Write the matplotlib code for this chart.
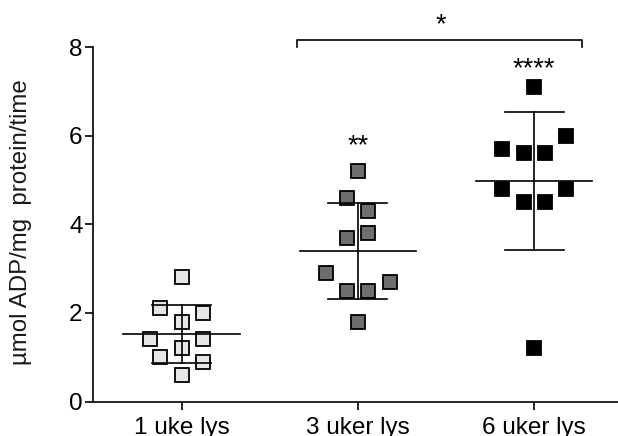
import numpy as np
import matplotlib
matplotlib.use('Agg')
import matplotlib.pyplot as plt

plt.rcParams['font.family'] = ['Liberation Sans', 'DejaVu Sans']

groups = ['1 uke lys', '3 uker lys', '6 uker lys']
uke1 = [2.8, 2.1, 2.0, 1.8, 1.4, 1.4, 1.2, 1.0, 0.9, 0.6]
uker3 = [5.2, 4.6, 4.3, 3.8, 3.7, 2.9, 2.7, 2.5, 2.5, 1.8]
uker6 = [7.1, 6.0, 5.7, 5.6, 5.6, 4.8, 4.8, 4.5, 4.5, 1.2]
stars = ['', '**', '****']

# horizontal spread of the squares so overlapping values sit side by side
spread1 = [0, -0.12, 0.12, 0, -0.18, 0.12, 0, -0.12, 0.12, 0]
spread3 = [0, -0.06, 0.06, 0.06, -0.06, -0.18, 0.18, -0.06, 0.06, 0]
spread6 = [0, 0.18, -0.18, -0.06, 0.06, -0.18, 0.18, -0.06, 0.06, 0]
star_y = [0, 5.6, 7.34]

faces = ['#e6e6e6', '#6e6e6e', '#000000']

fig = plt.figure(figsize=(6.18, 4.36), dpi=100)
ax = fig.add_axes([93 / 618, 34.5 / 436, 525 / 618, 354.5 / 436])

for i, (vals, spread) in enumerate(zip([uke1, uker3, uker6], [spread1, spread3, spread6])):
    vals = np.array(vals)
    mean = vals.mean()
    sd = vals.std(ddof=1)
    ax.plot(i + np.array(spread), vals, 's', ms=10.5, mfc=faces[i], mec='black',
            mew=1.3, zorder=3, clip_on=False)
    # mean line and SD whiskers
    ax.plot([i - 0.33, i + 0.33], [mean, mean], color='black', lw=1.2, zorder=4)
    ax.plot([i, i], [mean - sd, mean + sd], color='black', lw=1.2, zorder=4)
    for y in (mean - sd, mean + sd):
        ax.plot([i - 0.167, i + 0.167], [y, y], color='black', lw=1.2, zorder=4)
    if stars[i]:
        ax.text(i, star_y[i], stars[i], ha='center', va='baseline', fontsize=19.5)

# comparison bracket between 3 and 6 weeks
ax.plot([0.653, 0.653, 2.27, 2.27], [8.0, 8.16, 8.16, 8.0], color='black', lw=1.2,
        clip_on=False)
ax.text(1.47, 8.33, '*', ha='center', va='baseline', fontsize=19.5)

ax.set_xlim(-0.503, 2.476)
ax.set_ylim(0, 8)
ax.set_yticks([0, 2, 4, 6, 8])
ax.set_xticks(range(3))
ax.set_xticklabels(groups)
ax.spines['top'].set_visible(False)
ax.spines['right'].set_visible(False)
ax.spines['left'].set_linewidth(1.2)
ax.spines['bottom'].set_linewidth(1.2)
ax.tick_params(axis='both', length=6, width=1.2, labelsize=17.5)
ax.tick_params(axis='y', pad=1.5)
ax.tick_params(axis='x', pad=5)
ax.set_ylabel('µmol ADP/mg  protein/time', fontsize=17.25, color='#1a1a1a')
ax.yaxis.set_label_coords(-0.116, 0.507)

fig.savefig('out.png', dpi=100)
